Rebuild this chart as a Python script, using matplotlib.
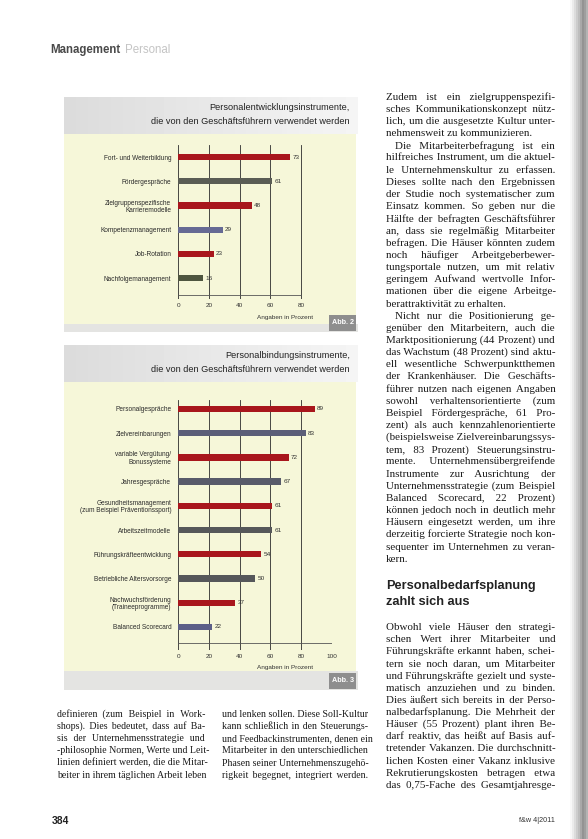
import numpy as np
import matplotlib
matplotlib.use("Agg")
import matplotlib.pyplot as plt
from matplotlib.patches import Rectangle

W, H = 588, 839

# ---- data ----
pe_labels = ["Fort- und Weiterbildung", "Fördergespräche",
             "Zielgruppenspezifische\nKarrieremodelle", "Kompetenzmanagement",
             "Job-Rotation", "Nachfolgemanagement"]
pe_values = [73, 61, 48, 29, 23, 16]
pe_ticks = [0, 20, 40, 60, 80]

pb_labels = ["Personalgespräche", "Zielvereinbarungen",
             "variable Vergütung/\nBonussysteme", "Jahresgespräche",
             "Gesundheitsmanagement\n(zum Beispiel Präventionssport)",
             "Arbeitszeitmodelle", "Führungskräfteentwicklung",
             "Betriebliche Altersvorsorge", "Nachwuchsförderung\n(Traineeprogramme)",
             "Balanced Scorecard"]
pb_values = [89, 83, 72, 67, 61, 61, 54, 50, 37, 22]
pb_ticks = [0, 20, 40, 60, 80, 100]

RED = "#a8161c"
pe_colors = [RED, "#5a5d55", RED, "#666a94", RED, "#4f5640"]
pb_colors = [RED, "#5b5e78", RED, "#585b6a", RED, "#56585a", RED, "#55575a", RED, "#5c5f88"]

right_col = [
    (False, True, ["Zudem ist ein zielgruppenspezifi-",
                   "sches Kommunikationskonzept nütz-",
                   "lich, um die ausgesetzte Kultur unter-",
                   "nehmensweit zu kommunizieren."]),
    (True, True, ["Die Mitarbeiterbefragung ist ein",
                  "hilfreiches Instrument, um die aktuel-",
                  "le Unternehmenskultur zu erfassen.",
                  "Dieses sollte nach den Ergebnissen",
                  "der Studie noch systematischer zum",
                  "Einsatz kommen. So geben nur die",
                  "Hälfte der befragten Geschäftsführer",
                  "an, dass sie regelmäßig Mitarbeiter",
                  "befragen. Die Häuser könnten zudem",
                  "noch häufiger Arbeitgeberbewer-",
                  "tungsportale nutzen, um mit relativ",
                  "geringem Aufwand wertvolle Infor-",
                  "mationen über die eigene Arbeitge-",
                  "berattraktivität zu erhalten."]),
    (True, True, ["Nicht nur die Positionierung ge-",
                  "genüber den Mitarbeitern, auch die",
                  "Marktpositionierung (44 Prozent) und",
                  "das Wachstum (48 Prozent) sind aktu-",
                  "ell wesentliche Schwerpunktthemen",
                  "der Krankenhäuser. Die Geschäfts-",
                  "führer nutzen nach eigenen Angaben",
                  "sowohl verhaltensorientierte (zum",
                  "Beispiel Fördergespräche, 61 Pro-",
                  "zent) als auch kennzahlenorientierte",
                  "(beispielsweise Zielvereinbarungssys-",
                  "tem, 83 Prozent) Steuerungsinstru-",
                  "mente. Unternehmensübergreifende",
                  "Instrumente zur Ausrichtung der",
                  "Unternehmensstrategie (zum Beispiel",
                  "Balanced Scorecard, 22 Prozent)",
                  "können jedoch noch in deutlich mehr",
                  "Häusern eingesetzt werden, um ihre",
                  "derzeitig forcierte Strategie noch kon-",
                  "sequenter im Unternehmen zu veran-",
                  "kern."]),
]
right_col2 = [
    (False, False, ["Obwohl viele Häuser den strategi-",
                    "schen Wert ihrer Mitarbeiter und",
                    "Führungskräfte erkannt haben, schei-",
                    "tern sie noch daran, um Mitarbeiter",
                    "und Führungskräfte gezielt und syste-",
                    "matisch anzuziehen und zu binden.",
                    "Dies äußert sich bereits in der Perso-",
                    "nalbedarfsplanung. Die Mehrheit der",
                    "Häuser (55 Prozent) plant ihren Be-",
                    "darf reaktiv, das heißt auf Basis auf-",
                    "tretender Vakanzen. Die durchschnitt-",
                    "lichen Kosten einer Vakanz inklusive",
                    "Rekrutierungskosten betragen etwa",
                    "das 0,75-Fache des Gesamtjahresge-"]),
]
left_a = [(False, False, ["definieren (zum Beispiel in Work-",
                          "shops). Dies bedeutet, dass auf Ba-",
                          "sis der Unternehmensstrategie und",
                          "-philosophie Normen, Werte und Leit-",
                          "linien definiert werden, die die Mitar-",
                          "beiter in ihrem täglichen Arbeit leben"])]
left_b = [(False, False, ["und lenken sollen. Diese Soll-Kultur",
                          "kann schließlich in den Steuerungs-",
                          "und Feedbackinstrumenten, denen ein",
                          "Mitarbeiter in den unterschiedlichen",
                          "Phasen seiner Unternehmenszugehö-",
                          "rigkeit begegnet, integriert werden."])]

SANS = ["Liberation Sans", "DejaVu Sans"]
SERIF = ["Liberation Serif", "DejaVu Serif"]

fig = plt.figure(figsize=(W / 100, H / 100), dpi=100)
fig.patch.set_facecolor("white")
bg = fig.add_axes([0, 0, 1, 1])
bg.set_xlim(0, W)
bg.set_ylim(H, 0)
bg.axis("off")
renderer = fig.canvas.get_renderer()


def box(x0, y0, x1, y1, color, z=0):
    bg.add_patch(Rectangle((x0, y0), x1 - x0, y1 - y0, color=color, lw=0, zorder=z))


def tw(s, size):
    t = bg.text(0, 0, s, family=SERIF, size=size)
    w = t.get_window_extent(renderer).width
    t.remove()
    return w


def justify(paras, x0, x1, y, lh, size=7.9):
    # one text per line; justification by padding the word gaps with spaces
    sp = tw("a a", size) - tw("aa", size)
    hs = tw("a\u200aa", size) - tw("aa", size)
    if hs < 0.3:
        hs = tw("a\u2009a", size) - tw("aa", size)
        hair = "\u2009"
    else:
        hair = "\u200a"
    for indent, ends, lines in paras:
        for i, line in enumerate(lines):
            left = x0 + (9 if indent and i == 0 else 0)
            words = line.split()
            txt = " ".join(words)
            last = ends and i == len(lines) - 1
            if not last and len(words) > 1:
                extra = x1 - left - tw(txt, size)
                per = extra / (len(words) - 1)
                carry = 0.0
                parts = [words[0]]
                for w in words[1:]:
                    need = max(per + carry, 0)
                    n_sp = int(need // sp)
                    n_h = int(round((need - n_sp * sp) / hs))
                    carry = need - n_sp * sp - n_h * hs
                    parts.append(" " * (1 + n_sp) + hair * n_h + w)
                txt = "".join(parts)
            bg.text(left, y + 3, txt, family=SERIF, size=size, color="#1a1a1a",
                    va="baseline", ha="left")
            y += lh
    return y


# header
bg.text(50, 50, "Management", family=SANS, size=8.3, weight="bold",
        color="#4a4a4a", va="center")
bg.text(125, 50, "Personal", family=SANS, size=8.3, color="#c4c4c4", va="center")

# binding shadow on the right edge
grad = np.array([[1.0, 0.97, 0.92, 0.86, 0.8, 0.74, 0.66, 0.58, 0.62, 0.7]])
bg.imshow(grad, extent=(568, 588, H, 0), cmap="gray", vmin=0, vmax=1,
          aspect="auto", zorder=0)


def panel(top, band_bot, yel_bot, bottom, t1, t2, abb):
    gband = np.linspace(0.86, 0.96, 50)[None, :]
    bg.imshow(gband, extent=(64, 358, band_bot, top), cmap="gray", vmin=0,
              vmax=1, aspect="auto", zorder=0)
    box(64, band_bot, 356, yel_bot, "#f6f7d9")
    box(64, yel_bot, 358, bottom, "#e4e4e2")
    bg.text(350, top + 11, t1, family=SANS, size=6.6, color="#222", ha="right", va="center")
    bg.text(350, top + 25, t2, family=SANS, size=6.6, color="#222", ha="right", va="center")
    box(329, bottom - 17, 356, bottom - 1, "#8e8e8e", z=2)
    bg.text(342.5, bottom - 9, abb, family=SANS, size=5.2, color="white",
            ha="center", va="center", weight="bold", zorder=3)


panel(97, 134, 324, 332, "Personalentwicklungsinstrumente,",
      "die von den Geschäftsführern verwendet werden", "Abb. 2")
panel(345, 382, 671, 690, "Personalbindungsinstrumente,",
      "die von den Geschäftsführern verwendet werden", "Abb. 3")

X0, X100 = 178.3, 331.7  # pixel x of 0 % and 100 %


def chart(top, bottom, ylim, base_line, labels, values, colors, ticks, note_y):
    ax = fig.add_axes([X0 / W, 1 - bottom / H, (X100 - X0) / W, (bottom - top) / H])
    ax.set_facecolor("none")
    ax.set_xlim(0, 100)
    ax.set_ylim(*ylim)
    y = np.arange(len(values))
    for t in ticks:
        ax.axvline(t, color="#2b2b2b", lw=0.6, zorder=1)
    ax.plot([0, ticks[-1]], [base_line, base_line], color="#555", lw=0.6, zorder=1)
    ax.barh(y, values, height=0.26, color=colors, zorder=3)
    for yi, v in zip(y, values):
        ax.text(v + 1.5, yi, str(v), family=SANS, size=4.6, color="#333", va="center")
    ax.set_yticks(y, labels, family=SANS, size=4.7, color="#2a2a2a", linespacing=1.1)
    ax.set_xticks(ticks, [str(t) for t in ticks], family=SANS, size=4.6, color="#333")
    ax.tick_params(length=0, axis="y", pad=5)
    ax.tick_params(length=0, axis="x", pad=3)
    for s in ax.spines.values():
        s.set_visible(False)
    bg.text(285, note_y, "Angaben in Prozent", family=SANS, size=4.6, color="#333",
            ha="center", va="center")
    return ax


chart(145, 299, (5.86, -0.5), 5.7, pe_labels, pe_values, pe_colors, pe_ticks, 317)
chart(400, 650, (9.95, -0.37), 9.66, pb_labels, pb_values, pb_colors, pb_ticks, 668)

# body text
justify(right_col, 386, 555, 97, 12.15)
bg.text(386, 586, "Personalbedarfsplanung", family=SANS, size=9.2, weight="bold",
        color="#222", va="center")
bg.text(386, 602, "zahlt sich aus", family=SANS, size=9.2, weight="bold",
        color="#222", va="center")
justify(right_col2, 386, 555, 627, 12.15)
justify(left_a, 57, 205, 714, 12.15, size=7.1)
justify(left_b, 222, 368, 714, 12.15, size=7.1)

bg.text(52, 821, "384", family=SANS, size=7.5, weight="bold", color="#222", va="center")
bg.text(555, 821, "f&w 4|2011", family=SANS, size=5.2, color="#333",
        va="center", ha="right")

fig.savefig("out.png", dpi=100)
